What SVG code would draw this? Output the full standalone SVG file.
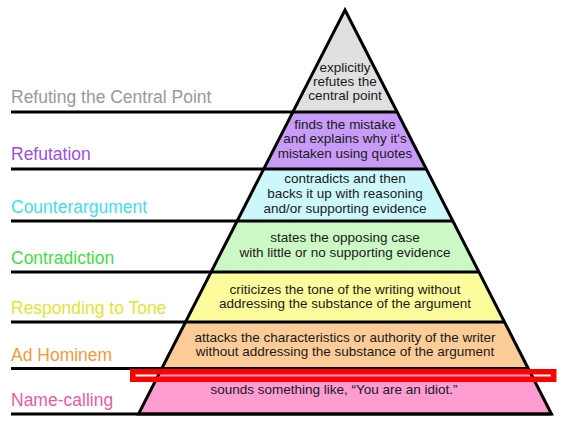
<svg xmlns="http://www.w3.org/2000/svg" width="563" height="422" viewBox="0 0 563 422">
<style>
.lbl{font-family:"Liberation Sans",Arial,sans-serif;font-size:17.5px}
.t{font-family:"Liberation Sans",Arial,sans-serif;font-size:13.5px;fill:#1a1a1a;text-anchor:middle}
.ln{stroke:#000;stroke-width:3;fill:none}
</style>
<rect width="563" height="422" fill="#fff"/>
<g id="level-refuting-central-point">
<polygon points="345,10 398,112 292,112" fill="#e0e0e0"/>
<text class="lbl" x="11" y="103" fill="#999999">Refuting the Central Point</text>
<text class="t" x="345" y="72">explicitly</text>
<text class="t" x="345" y="86">refutes the</text>
<text class="t" x="345" y="100">central point</text>
</g>
<g id="level-refutation">
<polygon points="292,112 398,112 426,169 264,169" fill="#c89cf6"/>
<text class="lbl" x="11" y="159.5" fill="#9d4ee8">Refutation</text>
<text class="t" x="345" y="128.5">finds the mistake</text>
<text class="t" x="345" y="143">and explains why it's</text>
<text class="t" x="345" y="157.5">mistaken using quotes</text>
</g>
<g id="level-counterargument">
<polygon points="264,169 426,169 453,221 237,221" fill="#ccf8fc"/>
<text class="lbl" x="11" y="212.5" fill="#40e0e8">Counterargument</text>
<text class="t" x="345" y="183">contradicts and then</text>
<text class="t" x="345" y="198">backs it up with reasoning</text>
<text class="t" x="345" y="213">and/or supporting evidence</text>
</g>
<g id="level-contradiction">
<polygon points="237,221 453,221 479,272 211,272" fill="#ccf8c6"/>
<text class="lbl" x="11" y="263.5" fill="#40e040">Contradiction</text>
<text class="t" x="345" y="242">states the opposing case</text>
<text class="t" x="345" y="257">with little or no supporting evidence</text>
</g>
<g id="level-responding-to-tone">
<polygon points="211,272 479,272 505,322 185,322" fill="#fcfc9c"/>
<text class="lbl" x="11" y="313.5" fill="#e4e432">Responding to Tone</text>
<text class="t" x="345" y="293.5">criticizes the tone of the writing without</text>
<text class="t" x="345" y="308">addressing the substance of the argument</text>
</g>
<g id="level-ad-hominem">
<polygon points="185,322 505,322 529,369 161,369" fill="#fccc98"/>
<text class="lbl" x="11" y="360.5" fill="#f8983a">Ad Hominem</text>
<text class="t" x="345" y="342">attacks the characteristics or authority of the writer</text>
<text class="t" x="345" y="356">without addressing the substance of the argument</text>
</g>
<g id="level-name-calling">
<polygon points="161,369 529,369 551.5,414 138.5,414" fill="#fc9cd0"/>
<text class="lbl" x="11" y="406" fill="#ec5ca0">Name-calling</text>
<text class="t" x="334" y="393.5">sounds something like, “You are an idiot.”</text>
</g>
<g id="connectors">
<line class="ln" x1="11" y1="112" x2="398" y2="112"/>
<line class="ln" x1="11" y1="169" x2="426" y2="169"/>
<line class="ln" x1="11" y1="221" x2="453" y2="221"/>
<line class="ln" x1="11" y1="272" x2="479" y2="272"/>
<line class="ln" x1="11" y1="322" x2="505" y2="322"/>
<line class="ln" x1="11" y1="368.5" x2="529" y2="368.5"/>
<line class="ln" x1="11" y1="414" x2="551.5" y2="414"/>
<polygon class="ln" points="345,10 551.5,414 138.5,414" stroke-linejoin="miter"/>
</g>
<g id="highlight">
<rect x="132.75" y="371.75" width="421" height="7.5" fill="none" stroke="#ff0000" stroke-width="5.5"/>
</g>
</svg>
